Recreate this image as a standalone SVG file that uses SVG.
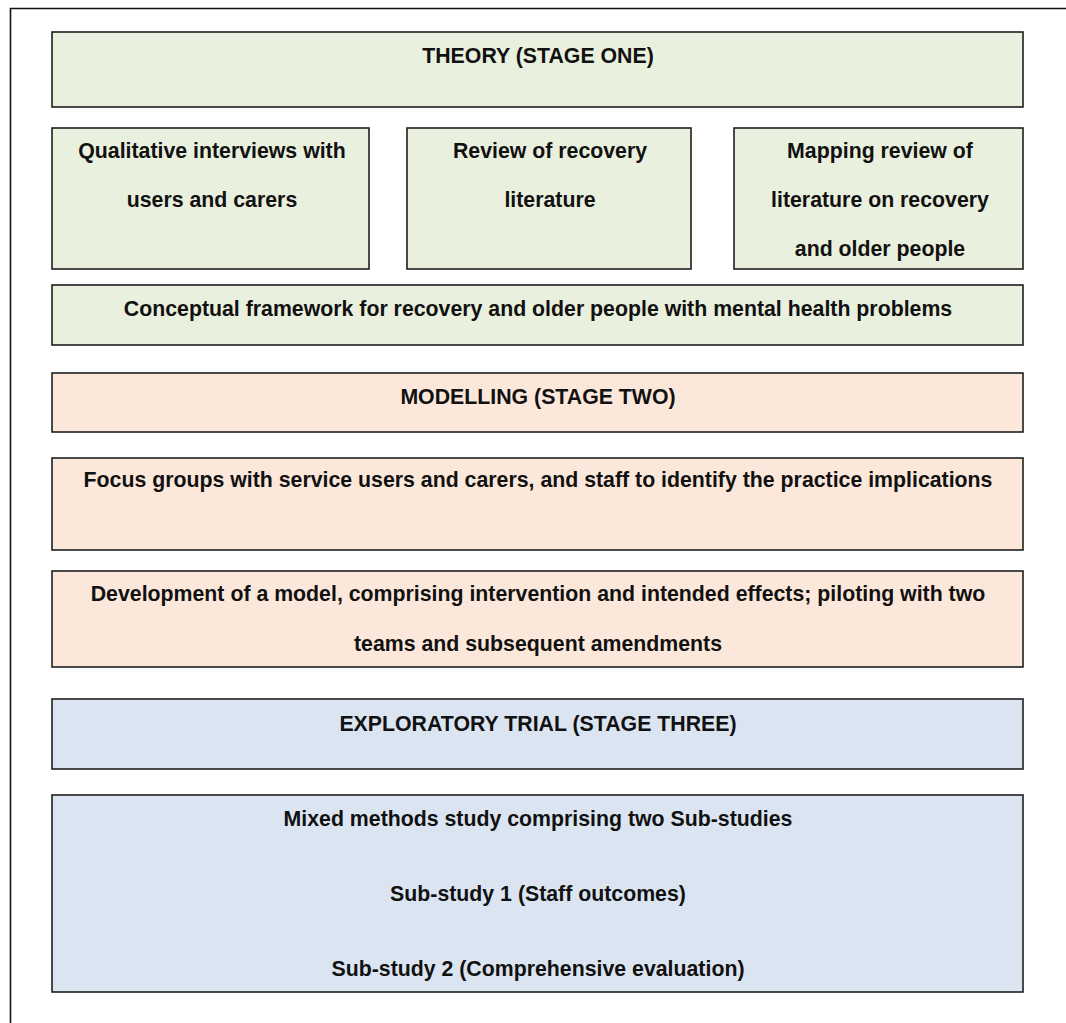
<svg xmlns="http://www.w3.org/2000/svg" width="1066" height="1023" viewBox="0 0 1066 1023">
<style>
.box{stroke:#1e1e1e;stroke-width:1.6}
.g{fill:#E9F0DD}
.p{fill:#FCE8DA}
.b{fill:#DBE5F1}
text{font-family:"Liberation Sans",Arial,sans-serif;font-weight:bold;font-size:21.3px;fill:#111;text-anchor:middle}
</style>
<rect x="0" y="0" width="1066" height="1023" fill="#fff"/>
<path d="M10.5,1023 V8.5 H1066" fill="none" stroke="#111" stroke-width="1.6"/>
<g id="theory"><rect class="box g" x="52" y="32" width="971" height="75"/><text x="538" y="63">THEORY (STAGE ONE)</text></g>
<g id="qualitative"><rect class="box g" x="52" y="128" width="317" height="141"/><text x="212" y="158">Qualitative interviews with</text><text x="212" y="207">users and carers</text></g>
<g id="review"><rect class="box g" x="407" y="128" width="284" height="141"/><text x="550" y="158">Review of recovery</text><text x="550" y="207">literature</text></g>
<g id="mapping"><rect class="box g" x="734" y="128" width="289" height="141"/><text x="880" y="158">Mapping review of</text><text x="880" y="207">literature on recovery</text><text x="880" y="256">and older people</text></g>
<g id="conceptual"><rect class="box g" x="52" y="285" width="971" height="60"/><text x="538" y="316">Conceptual framework for recovery and older people with mental health problems</text></g>
<g id="modelling"><rect class="box p" x="52" y="373" width="971" height="59"/><text x="538" y="404">MODELLING (STAGE TWO)</text></g>
<g id="focus"><rect class="box p" x="52" y="458" width="971" height="92"/><text x="538" y="487">Focus groups with service users and carers, and staff to identify the practice implications</text></g>
<g id="development"><rect class="box p" x="52" y="571" width="971" height="96"/><text x="538" y="601">Development of a model, comprising intervention and intended effects; piloting with two</text><text x="538" y="651">teams and subsequent amendments</text></g>
<g id="exploratory"><rect class="box b" x="52" y="699" width="971" height="70"/><text x="538" y="731">EXPLORATORY TRIAL (STAGE THREE)</text></g>
<g id="mixed"><rect class="box b" x="52" y="795" width="971" height="197"/><text x="538" y="826">Mixed methods study comprising two Sub-studies</text><text x="538" y="901">Sub-study 1 (Staff outcomes)</text><text x="538" y="976">Sub-study 2 (Comprehensive evaluation)</text></g>
<g id="connectors"></g>
</svg>
